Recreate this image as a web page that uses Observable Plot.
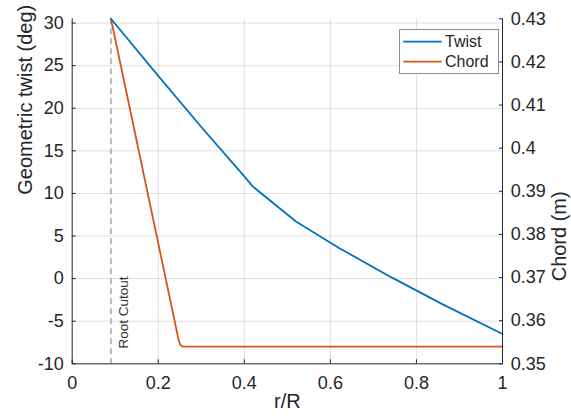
<!DOCTYPE html>
<html><head><meta charset="utf-8">
<script src="https://cdn.jsdelivr.net/npm/d3@7"></script>
<script src="https://cdn.jsdelivr.net/npm/@observablehq/plot@0.6"></script>
<style>
body{margin:0;background:#fff;}
#wrap{position:relative;width:571px;height:416px;}
#legend{position:absolute;left:399px;top:29px;}
</style></head><body><div id="wrap"></div>
<script>
// ---- data ----
const twistR   = [0.09, 0.2, 0.3, 0.4, 0.42, 0.52, 0.62, 0.74, 0.86, 1.0];
const twistDeg = [30.5, 23.8, 17.8, 12.0, 10.8, 6.7, 3.6, 0.2, -3.0, -6.5];
const chordR   = [0.09, 0.247, 0.251, 0.257, 1.0];
const chordM   = [0.43, 0.3557, 0.3544, 0.354, 0.354];
const rootCutout = [0.09];
const rootLabel = ["Root Cutout"];
const xTicks = [0, 0.2, 0.4, 0.6, 0.8, 1];
const twistTicks = [-10, -5, 0, 5, 10, 15, 20, 25, 30];
const chordTicks = [0.35, 0.36, 0.37, 0.38, 0.39, 0.40, 0.41, 0.42, 0.43];
const twistDomain = [-10, 30.5];
const chordDomain = [0.35, 0.43];
const seriesNames = ["Twist", "Chord"];
const seriesColors = ["#0072BD", "#D95319"];

const toTwist = c => twistDomain[0] + (c - chordDomain[0]) / (chordDomain[1] - chordDomain[0]) * (twistDomain[1] - twistDomain[0]);
const toChord = t => chordDomain[0] + (t - twistDomain[0]) / (twistDomain[1] - twistDomain[0]) * (chordDomain[1] - chordDomain[0]);

const twist = twistR.map((r, i) => ({r, v: twistDeg[i]}));
const chord = chordR.map((r, i) => ({r, v: toTwist(chordM[i])}));

const font = '"Liberation Sans", Arial, Helvetica, sans-serif';
const ink = "#262626";

const plot = Plot.plot({
  width: 571, height: 416,
  marginLeft: 71.7, marginRight: 69, marginTop: 18.3, marginBottom: 52.7,
  style: {fontFamily: font, fontSize: "18px", color: ink, background: "#fff"},
  x: {domain: [0, 1]},
  y: {domain: twistDomain},
  marks: [
    Plot.gridX(xTicks.filter(d => d > 0 && d < 1), {stroke: ink, strokeOpacity: 0.14, strokeWidth: 1}),
    Plot.gridY(twistTicks.filter(d => d > -10), {stroke: ink, strokeOpacity: 0.14, strokeWidth: 1}),
    Plot.ruleX(rootCutout, {stroke: "#a6a6a6", strokeWidth: 1.5, strokeDasharray: "6,4"}),
    Plot.text(rootLabel, {x: rootCutout[0], y: -8.2, rotate: -90, textAnchor: "start", dx: 13, fontSize: 13.5, fill: "#333"}),
    Plot.line(chord, {x: "r", y: "v", stroke: seriesColors[1], strokeWidth: 1.8}),
    Plot.line(twist, {x: "r", y: "v", stroke: seriesColors[0], strokeWidth: 1.8}),
    Plot.ruleX([0, 1], {stroke: ink, strokeWidth: 1}),
    Plot.ruleY([twistDomain[0]], {stroke: ink, strokeWidth: 1}),
    Plot.axisX({ticks: xTicks, tickSize: -4, tickPadding: 16.7, stroke: ink, tickFormat: d => String(d), label: null}),
    Plot.axisY({anchor: "left", ticks: twistTicks, tickSize: -4, tickPadding: 12.4, stroke: ink, tickFormat: d => String(d), label: null}),
    Plot.axisY({anchor: "right", ticks: chordTicks.map(toTwist), tickSize: -4, tickPadding: 12.3, stroke: ink,
      tickFormat: t => String(+toChord(t).toFixed(2)), label: null}),
    Plot.text(["Geometric twist (deg)"], {frameAnchor: "left", rotate: -90, dx: -47, dy: 3.5, fontSize: 20, fill: ink}),
    Plot.text(["Chord (m)"], {frameAnchor: "right", rotate: -90, dx: 57.5, fontSize: 20, fill: ink}),
    Plot.text(["r/R"], {frameAnchor: "bottom", dy: 44.5, fontSize: 20, fill: ink})
  ]
});
const wrap = document.getElementById("wrap");
wrap.appendChild(plot);

// legend
const lg = d3.select(wrap).append("svg").attr("id", "legend")
  .attr("width", 100).attr("height", 45)
  .style("font-family", font);
lg.append("rect").attr("x", 0.5).attr("y", 0.5).attr("width", 99).attr("height", 44)
  .attr("fill", "#fff").attr("stroke", "#8f8f8f").attr("stroke-width", 1);
const rows = lg.selectAll("g").data(seriesNames).join("g")
  .attr("transform", (d, i) => `translate(0,${12.7 + i * 20})`);
rows.append("line").attr("x1", 4.3).attr("x2", 42.7).attr("y1", 0).attr("y2", 0)
  .attr("stroke", (d, i) => seriesColors[i]).attr("stroke-width", 1.8);
rows.append("text").attr("x", 46).attr("y", 0).attr("dy", "0.35em")
  .attr("font-size", 16).attr("fill", ink).text(d => d);
</script></body></html>
